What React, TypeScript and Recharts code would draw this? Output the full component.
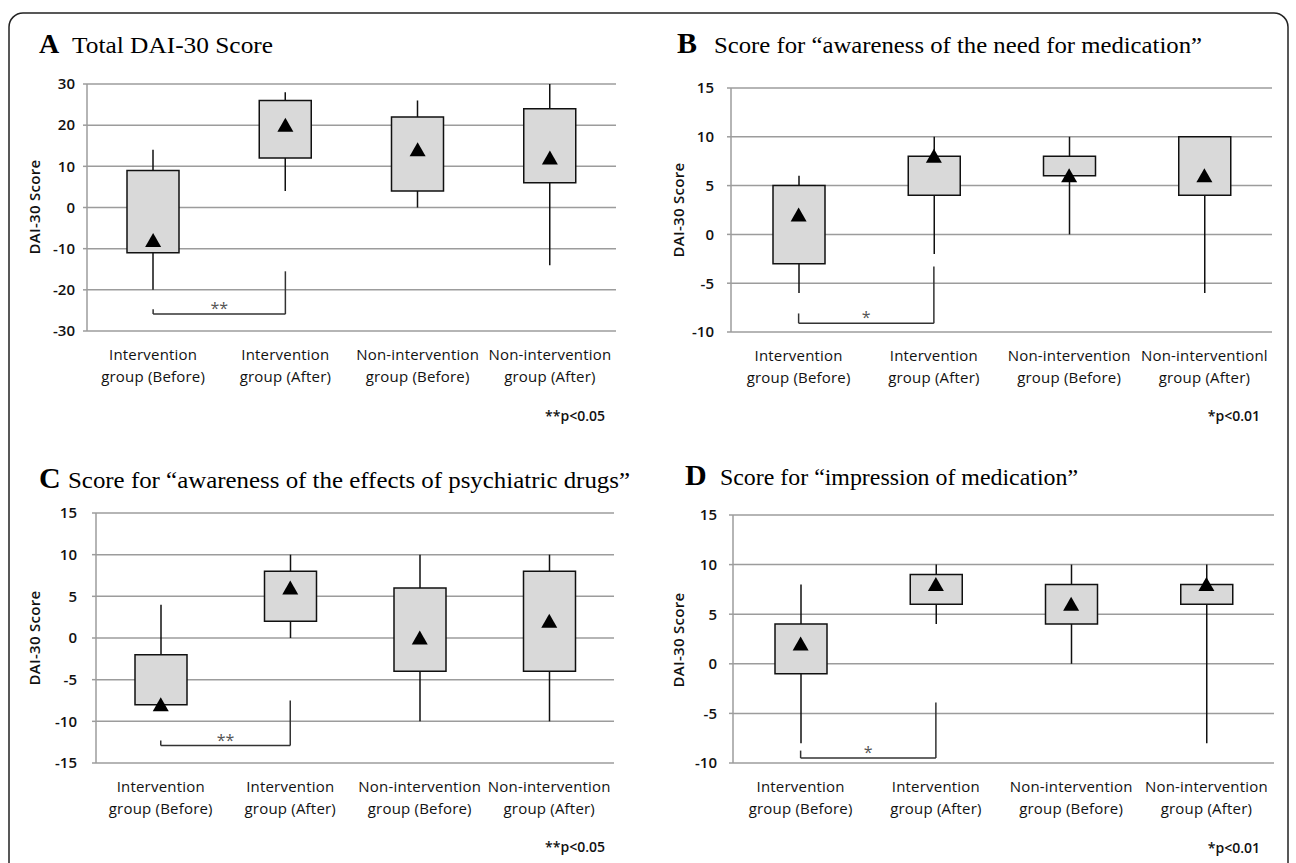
import React from "react"
import { ComposedChart, Bar, Scatter, XAxis, YAxis, CartesianGrid, ReferenceLine } from "recharts"

const groupsACD = [
  "Intervention group (Before)",
  "Intervention group (After)",
  "Non-intervention group (Before)",
  "Non-intervention group (After)",
]
// panel B keeps the original's spelling of the last group
const groupsB = [
  "Intervention group (Before)",
  "Intervention group (After)",
  "Non-intervention group (Before)",
  "Non-interventionl group (After)",
]

// A: Total DAI-30 score
const totalMin = [-20, 4, 0, -14]
const totalQ1 = [-11, 12, 4, 6]
const totalQ3 = [9, 26, 22, 24]
const totalMax = [14, 28, 26, 30]
const totalMean = [-8, 20, 14, 12]
const totalTicks = [-30, -20, -10, 0, 10, 20, 30]

// B: awareness of the need for medication
const needMin = [-6, -2, 0, -6]
const needQ1 = [-3, 4, 6, 4]
const needQ3 = [5, 8, 8, 10]
const needMax = [6, 10, 10, 10]
const needMean = [2, 8, 6, 6]
const needTicks = [-10, -5, 0, 5, 10, 15]

// C: awareness of the effects of psychiatric drugs
const effectMin = [-8, 0, -10, -10]
const effectQ1 = [-8, 2, -4, -4]
const effectQ3 = [-2, 8, 6, 8]
const effectMax = [4, 10, 10, 10]
const effectMean = [-8, 6, 0, 2]
const effectTicks = [-15, -10, -5, 0, 5, 10, 15]

// D: impression of medication
const impMin = [-8, 4, 0, -8]
const impQ1 = [-1, 6, 4, 6]
const impQ3 = [4, 9, 8, 8]
const impMax = [8, 10, 10, 10]
const impMean = [2, 8, 6, 8]
const impTicks = [-10, -5, 0, 5, 10, 15]

// significance brackets: [left tick top, base, right tick top]
const totalBracket = [-24.7, -25.9, -15.5]
const needBracket = [-8.1, -9.1, -3.3]
const effectBracket = [-12.3, -12.9, -7.5]
const impBracket = [-8.75, -9.5, -3.9]

const SANS = "'Open Sans', 'DejaVu Sans', sans-serif"
const SERIF = "'Liberation Serif', 'DejaVu Serif', serif"

function buildRows(names: string[], min: number[], q1: number[], q3: number[], max: number[], mean: number[]) {
  return names.map((name, i) => ({
    name,
    whisker: [min[i], max[i]],
    box: [q1[i], q3[i]],
    mean: mean[i],
  }))
}

function WhiskerShape(props: any) {
  const { x, y, width, height } = props
  if (x == null || y == null) return null
  const cx = x + width / 2
  const top = Math.min(y, y + height)
  const bottom = Math.max(y, y + height)
  return <line x1={cx} x2={cx} y1={top} y2={bottom} stroke="#111" strokeWidth={1.5} />
}

function MeanTriangle(props: any) {
  const { cx, cy } = props
  if (cx == null || cy == null) return null
  return <polygon points={`${cx},${cy - 7.5} ${cx + 8},${cy + 6.5} ${cx - 8},${cy + 6.5}`} fill="#000" />
}

function GroupTick(props: any) {
  const { x, y, payload } = props
  const label = String(payload.value)
  const cut = label.indexOf(" group")
  return (
    <text x={x} y={y} textAnchor="middle" fontSize={15} fontWeight={500} letterSpacing={0.2} fontFamily={SANS} fill="#111">
      <tspan x={x} dy={29}>{label.slice(0, cut)}</tspan>
      <tspan x={x} dy={22}>{label.slice(cut + 1)}</tspan>
    </text>
  )
}

interface PanelProps {
  names: string[]
  min: number[]
  q1: number[]
  q3: number[]
  max: number[]
  mean: number[]
  ticks: number[]
  bracket: number[]
  mark: string
  plot: { x0: number; x1: number; y0: number; y1: number }
  tickGap: number
}

function BoxPanel({ names, min, q1, q3, max, mean, ticks, bracket, mark, plot, tickGap }: PanelProps) {
  const rows = buildRows(names, min, q1, q3, max, mean)
  const axisW = 50
  const left = plot.x0 - axisW - 10
  const top = plot.y0 - 20
  const width = plot.x1 - left + 10
  const height = plot.y1 - top + 70
  const [leftTop, base, rightTop] = bracket
  const a = names[0]
  const b = names[1]
  const lineStyle = { stroke: "#333", strokeWidth: 1.5 }

  return (
    <div style={{ position: "absolute", left, top, width, height }}>
      <ComposedChart
        width={width}
        height={height}
        data={rows}
        margin={{ top: 20, left: 10, right: 10, bottom: 10 }}
      >
        <CartesianGrid vertical={false} stroke="#9c9c9c" strokeWidth={1.5} />
        <XAxis xAxisId="whisker" dataKey="name" hide />
        <XAxis
          xAxisId="main"
          dataKey="name"
          axisLine={false}
          tickLine={false}
          tickSize={0}
          tickMargin={0}
          height={60}
          interval={0}
          tick={<GroupTick />}
        />
        <YAxis
          type="number"
          domain={[ticks[0], ticks[ticks.length - 1]]}
          ticks={ticks}
          interval={0}
          width={axisW}
          axisLine={{ stroke: "#9c9c9c", strokeWidth: 1.5 }}
          tickLine={{ stroke: "#9c9c9c", strokeWidth: 1.5 }}
          tickSize={4}
          tickMargin={tickGap}
          tick={{ fontSize: 15, fontWeight: 600, fill: "#111", fontFamily: SANS }}
        />
        <Bar xAxisId="whisker" dataKey="whisker" barSize={2} shape={<WhiskerShape />} isAnimationActive={false} />
        <Bar
          xAxisId="main"
          dataKey="box"
          barSize={52}
          fill="#d9d9d9"
          stroke="#111"
          strokeWidth={1.5}
          isAnimationActive={false}
        />
        <Scatter xAxisId="main" dataKey="mean" shape={<MeanTriangle />} isAnimationActive={false} />
        <ReferenceLine xAxisId="main" segment={[{ x: a, y: leftTop }, { x: a, y: base }]} {...lineStyle} />
        <ReferenceLine
          xAxisId="main"
          segment={[{ x: a, y: base }, { x: b, y: base }]}
          {...lineStyle}
          label={{ value: mark, position: "top", offset: 0, fill: "#555", fontSize: 16, fontFamily: SANS }}
        />
        <ReferenceLine xAxisId="main" segment={[{ x: b, y: base }, { x: b, y: rightTop }]} {...lineStyle} />
      </ComposedChart>
    </div>
  )
}

export default function App() {
  const titleStyle = { fontFamily: SERIF, fill: "#000" }
  const noteStyle = { fontFamily: SANS, fontSize: 14, fontWeight: 600, fill: "#111" }
  const yTitle = { fontFamily: SANS, fontSize: 15, fontWeight: 600, fill: "#111", letterSpacing: 0.3 }
  return (
    <div style={{ position: "fixed", left: 0, top: 0, width: 1296, height: 863, background: "#fff", overflow: "hidden" }}>
      <BoxPanel
        names={groupsACD}
        min={totalMin}
        q1={totalQ1}
        q3={totalQ3}
        max={totalMax}
        mean={totalMean}
        ticks={totalTicks}
        bracket={totalBracket}
        mark="**"
        plot={{ x0: 87, x1: 616, y0: 84, y1: 331 }}
        tickGap={8}
      />
      <BoxPanel
        names={groupsB}
        min={needMin}
        q1={needQ1}
        q3={needQ3}
        max={needMax}
        mean={needMean}
        ticks={needTicks}
        bracket={needBracket}
        mark="*"
        plot={{ x0: 731, x1: 1272, y0: 88, y1: 332 }}
        tickGap={13}
      />
      <BoxPanel
        names={groupsACD}
        min={effectMin}
        q1={effectQ1}
        q3={effectQ3}
        max={effectMax}
        mean={effectMean}
        ticks={effectTicks}
        bracket={effectBracket}
        mark="**"
        plot={{ x0: 96, x1: 614, y0: 513, y1: 763 }}
        tickGap={15}
      />
      <BoxPanel
        names={groupsACD}
        min={impMin}
        q1={impQ1}
        q3={impQ3}
        max={impMax}
        mean={impMean}
        ticks={impTicks}
        bracket={impBracket}
        mark="*"
        plot={{ x0: 733, x1: 1274, y0: 515, y1: 763 }}
        tickGap={12}
      />
      <svg width={1296} height={863} style={{ position: "absolute", left: 0, top: 0, pointerEvents: "none" }}>
        <rect x={9} y={13} width={1279} height={900} rx={14} fill="none" stroke="#222" strokeWidth={1.5} />

        <text x={39} y={53} fontSize={28} fontWeight={700} {...titleStyle}>A</text>
        <text x={72} y={53} fontSize={24} textLength={201} lengthAdjust="spacingAndGlyphs" {...titleStyle}>Total DAI-30 Score</text>
        <text x={677} y={53} fontSize={30} fontWeight={700} {...titleStyle}>B</text>
        <text x={714} y={53} fontSize={24} textLength={488} lengthAdjust="spacingAndGlyphs" {...titleStyle}>
          Score for “awareness of the need for medication”
        </text>
        <text x={39} y={488} fontSize={30} fontWeight={700} {...titleStyle}>C</text>
        <text x={68} y={488} fontSize={24} textLength={562} lengthAdjust="spacingAndGlyphs" {...titleStyle}>
          Score for “awareness of the effects of psychiatric drugs”
        </text>
        <text x={685} y={485} fontSize={30} fontWeight={700} {...titleStyle}>D</text>
        <text x={720} y={485} fontSize={24} textLength={358} lengthAdjust="spacingAndGlyphs" {...titleStyle}>
          Score for “impression of medication”
        </text>

        <text transform="translate(40,207) rotate(-90)" textAnchor="middle" {...yTitle}>DAI-30 Score</text>
        <text transform="translate(684,210) rotate(-90)" textAnchor="middle" {...yTitle}>DAI-30 Score</text>
        <text transform="translate(40,638) rotate(-90)" textAnchor="middle" {...yTitle}>DAI-30 Score</text>
        <text transform="translate(684,640) rotate(-90)" textAnchor="middle" {...yTitle}>DAI-30 Score</text>

        <text x={605} y={421} textAnchor="end" {...noteStyle}>**p&lt;0.05</text>
        <text x={1260} y={421} textAnchor="end" {...noteStyle}>*p&lt;0.01</text>
        <text x={605} y={852} textAnchor="end" {...noteStyle}>**p&lt;0.05</text>
        <text x={1260} y={853} textAnchor="end" {...noteStyle}>*p&lt;0.01</text>
      </svg>
    </div>
  )
}
